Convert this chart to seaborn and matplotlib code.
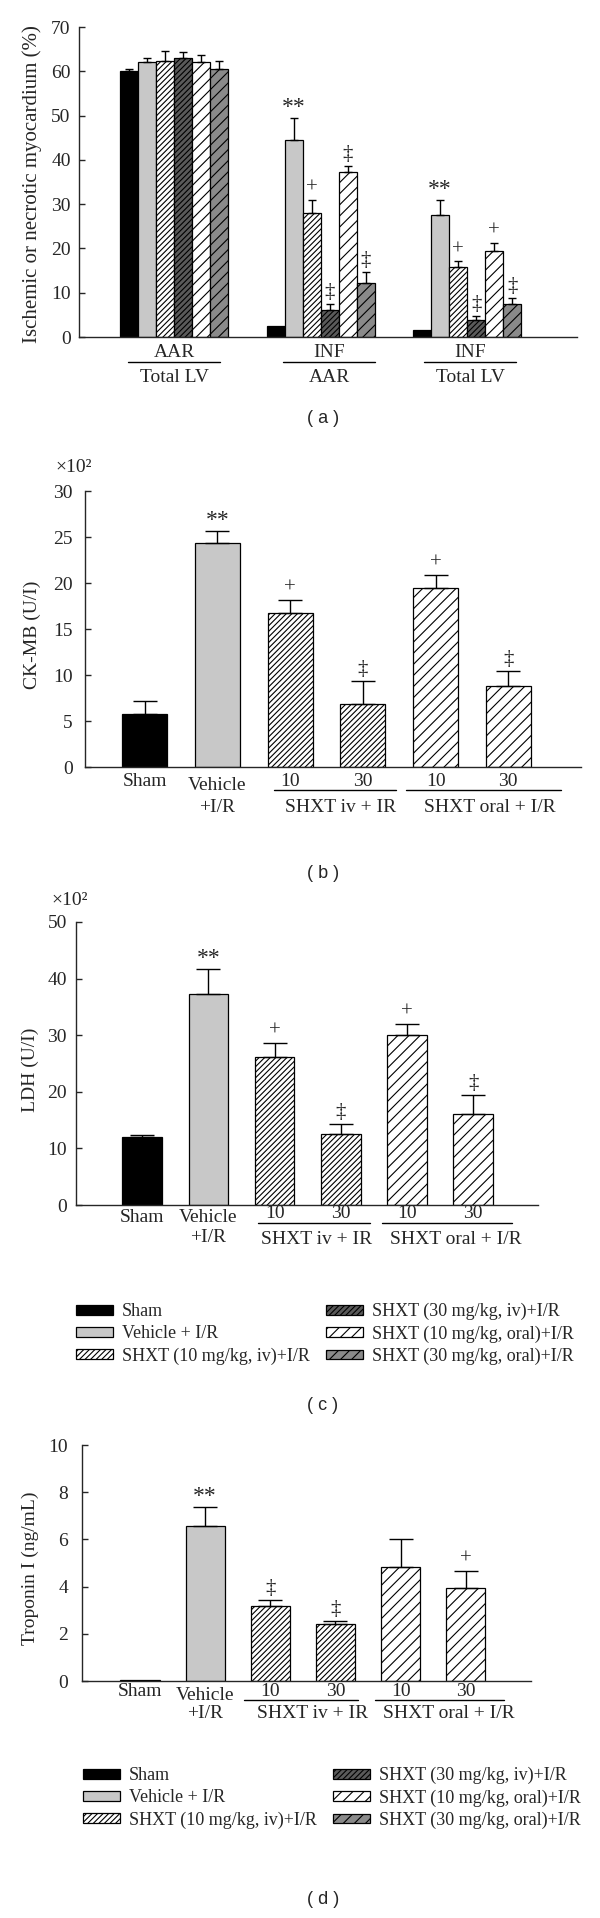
import matplotlib
matplotlib.use("Agg")
import matplotlib.pyplot as plt
import matplotlib.patches as mpatches
from matplotlib.transforms import ScaledTranslation
import numpy as np
import pandas as pd
import seaborn as sns

# ---- data ----
treatments = ["Sham", "Vehicle + I/R", "SHXT (10 mg/kg, iv)+I/R",
              "SHXT (30 mg/kg, iv)+I/R", "SHXT (10 mg/kg, oral)+I/R",
              "SHXT (30 mg/kg, oral)+I/R"]

# panel (a): infarct / area at risk ratios
ratio_groups = ["AAR/Total LV", "INF/AAR", "INF/Total LV"]
ratio_top = ["AAR", "INF", "INF"]
ratio_bottom = ["Total LV", "AAR", "Total LV"]
ratio_vals = {
    "Sham": [60.0, 2.5, 1.5],
    "Vehicle + I/R": [62.0, 44.5, 27.6],
    "SHXT (10 mg/kg, iv)+I/R": [62.3, 28.0, 15.7],
    "SHXT (30 mg/kg, iv)+I/R": [62.9, 6.2, 3.9],
    "SHXT (10 mg/kg, oral)+I/R": [62.0, 37.2, 19.4],
    "SHXT (30 mg/kg, oral)+I/R": [60.5, 12.1, 7.4],
}
ratio_errs = {
    "Sham": [0.6, 0.0, 0.0],
    "Vehicle + I/R": [1.0, 5.0, 3.4],
    "SHXT (10 mg/kg, iv)+I/R": [2.2, 2.9, 1.4],
    "SHXT (30 mg/kg, iv)+I/R": [1.5, 1.3, 0.8],
    "SHXT (10 mg/kg, oral)+I/R": [1.6, 1.4, 1.8],
    "SHXT (30 mg/kg, oral)+I/R": [1.8, 2.5, 1.4],
}
ratio_marks = {
    "Sham": ["", "", ""],
    "Vehicle + I/R": ["", "**", "**"],
    "SHXT (10 mg/kg, iv)+I/R": ["", "+", "+"],
    "SHXT (30 mg/kg, iv)+I/R": ["", "‡", "‡"],
    "SHXT (10 mg/kg, oral)+I/R": ["", "‡", "+"],
    "SHXT (30 mg/kg, oral)+I/R": ["", "‡", "‡"],
}

# panels (b)-(d): one bar per treatment
bar_keys = ["sham", "vehicle", "iv10", "iv30", "oral10", "oral30"]
ckmb_vals = [5.76, 24.3, 16.7, 6.8, 19.5, 8.8]
ckmb_errs = [1.45, 1.4, 1.5, 2.5, 1.4, 1.6]
ckmb_marks = ["", "**", "+", "‡", "+", "‡"]

ldh_vals = [12.1, 37.25, 26.1, 12.5, 30.1, 16.1]
ldh_errs = [0.3, 4.4, 2.5, 1.8, 1.9, 3.4]
ldh_marks = ["", "**", "+", "‡", "+", "‡"]

trop_vals = [0.03, 6.55, 3.16, 2.43, 4.83, 3.93]
trop_errs = [0.0, 0.84, 0.27, 0.13, 1.17, 0.73]
trop_marks = ["", "**", "‡", "‡", "", "+"]

# ---- styles ----
sns.set_theme(style="ticks")
plt.rcParams["font.family"] = ["Liberation Serif", "DejaVu Serif"]
plt.rcParams["hatch.linewidth"] = 0.8
plt.rcParams["axes.linewidth"] = 1.0

fills_a = ["black", "#c8c8c8", "white", "#5a5a5a", "white", "#8a8a8a"]
hatches = ["", "", "//////", "//////", "///", "///"]
fills_bcd = ["black", "#c8c8c8", "white", "white", "white", "white"]
FS = 14

fig = plt.figure(figsize=(6, 19.18), dpi=100)
W, H = 600, 1918


def add_ax(left, right, top, bottom):
    return fig.add_axes([left / W, 1 - bottom / H, (right - left) / W, (bottom - top) / H])


def below(ax, x, px, s, **kw):
    tr = ax.get_xaxis_transform() + ScaledTranslation(0, -px / 100, fig.dpi_scale_trans)
    ax.text(x, 0, s, transform=tr, ha="center", va="center", fontsize=FS, **kw)


def underline(ax, x0, x1, px):
    tr = ax.get_xaxis_transform() + ScaledTranslation(0, -px / 100, fig.dpi_scale_trans)
    ax.plot([x0, x1], [0, 0], transform=tr, color="black", lw=1.0, clip_on=False)


def finish(ax, ymax, step, pad, xlim, ylabel, lab_x, lab_y, lab_fs=FS):
    ax.set_ylim(0, ymax)
    ax.set_yticks(np.arange(0, ymax + 0.01, step))
    ax.set_xlim(*xlim)
    ax.set_xticks([])
    ax.set_xlabel("")
    ax.tick_params(axis="y", direction="in", length=4, width=1, pad=pad, labelsize=FS)
    sns.despine(ax=ax)
    ax.set_ylabel(ylabel, fontsize=lab_fs)
    ax.yaxis.set_label_coords(lab_x, lab_y)


def mark(ax, x, top, s):
    size = 17 if s == "**" else 15
    off = 0 if s == "**" else 1.5
    ax.annotate(s, (x, top), xytext=(0, off), textcoords="offset points",
                ha="center", va="bottom", fontsize=size)


# ---- panel (a) ----
rows = []
for t in treatments:
    for g, v in zip(ratio_groups, ratio_vals[t]):
        rows.append({"ratio": g, "treatment": t, "value": v})
df_a = pd.DataFrame(rows)

ax = add_ax(79, 577, 27, 337)
sns.barplot(data=df_a, x="ratio", y="value", hue="treatment", order=ratio_groups,
            hue_order=treatments, palette=dict(zip(treatments, fills_a)),
            width=0.737, saturation=1, edgecolor="black", linewidth=0.9,
            errorbar=None, legend=False, ax=ax)
bar_conts = list(ax.containers)
for i, cont in enumerate(bar_conts):
    t = treatments[i]
    for j, bar in enumerate(cont):
        bar.set_hatch(hatches[i])
        x = bar.get_x() + bar.get_width() / 2
        top = bar.get_height() + ratio_errs[t][j]
        if ratio_errs[t][j] > 0:
            ax.errorbar(x, bar.get_height(), yerr=[[0], [ratio_errs[t][j]]], fmt="none",
                        ecolor="black", elinewidth=1.0, capsize=3.2, capthick=1.0)
        if ratio_marks[t][j]:
            mark(ax, x, top, ratio_marks[t][j])
finish(ax, 70, 10, 6, (-0.65, 2.75), "Ischemic or necrotic myocardium (%)", -0.075, 0.494,
       lab_fs=15)
label_x = [0.0, 1.06, 2.02]
for k in range(3):
    below(ax, label_x[k], 15, ratio_top[k])
    underline(ax, label_x[k] - 0.314, label_x[k] + 0.314, 25)
    below(ax, label_x[k], 40, ratio_bottom[k])


# ---- panels (b)-(d) ----
def single_panel(box, vals, errs, marks, width, ymax, step, pad, xlim, ylabel,
                 lab_x, offs, iv_line, oral_line, iv_x, oral_x):
    ax = add_ax(*box)
    sns.barplot(x=bar_keys, y=vals, hue=bar_keys, palette=fills_bcd, width=width,
                saturation=1, edgecolor="black", linewidth=0.9, errorbar=None,
                legend=False, ax=ax)
    bars = list(ax.patches)
    for i, bar in enumerate(bars):
        bar.set_hatch(hatches[i])
        x = bar.get_x() + bar.get_width() / 2
        if errs[i] > 0:
            ax.errorbar(x, vals[i], yerr=[[0], [errs[i]]], fmt="none", ecolor="black",
                        elinewidth=1.0, capsize=8.5, capthick=1.0)
        if marks[i]:
            mark(ax, x, vals[i] + errs[i], marks[i])
    finish(ax, ymax, step, pad, xlim, ylabel, lab_x, 0.478)
    o_name, o_veh1, o_veh2, o_num, o_line, o_grp = offs
    below(ax, 0, o_name, "Sham")
    below(ax, 1, o_veh1, "Vehicle")
    below(ax, 1, o_veh2, "+I/R")
    for k, n in zip(range(2, 6), ["10", "30", "10", "30"]):
        below(ax, k, o_num, n)
    underline(ax, iv_line[0], iv_line[1], o_line)
    underline(ax, oral_line[0], oral_line[1], o_line)
    below(ax, iv_x, o_grp, "SHXT iv + IR")
    below(ax, oral_x, o_grp, "SHXT oral + I/R")
    return ax


single_panel((85, 581, 491, 767), ckmb_vals, ckmb_errs, ckmb_marks, 0.62, 30, 5, 9,
             (-0.82, 6.0), "CK-MB (U/I)", -0.088, (15, 18, 40, 14, 23, 40),
             (1.78, 3.46), (3.6, 5.73), 2.69, 4.75)
single_panel((76, 538, 922, 1205), ldh_vals, ldh_errs, ldh_marks, 0.6, 50, 10, 6.5,
             (-1.0, 5.98), "LDH (U/I)", -0.08, (12, 13, 33, 9, 18, 35),
             (1.75, 3.44), (3.63, 5.59), 2.64, 4.74)
single_panel((82, 531, 1445, 1681), trop_vals, trop_errs, trop_marks, 0.6, 10, 2, 10,
             (-0.89, 6.0), "Troponin I (ng/mL)", -0.096, (11, 14, 32, 11, 19, 32),
             (1.6, 3.35), (3.6, 5.58), 2.65, 4.74)

fig.text(74 / W, 1 - 468 / H, "×10²", ha="center", va="center", fontsize=FS)
fig.text(70 / W, 1 - 901 / H, "×10²", ha="center", va="center", fontsize=FS)

# ---- legends ----
legend_fills = ["black", "#c8c8c8", "white", "#5a5a5a", "white", "#8a8a8a"]
handles = [mpatches.Patch(facecolor=f, edgecolor="black", hatch=h, linewidth=0.9, label=t)
           for f, h, t in zip(legend_fills, hatches, treatments)]
for lx, ly in [(76, 1303), (83, 1767)]:
    fig.legend(handles=handles, loc="upper left", bbox_to_anchor=(lx / W, 1 - ly / H),
               ncol=2, frameon=False, fontsize=13, handlelength=2.05, handleheight=0.45,
               handletextpad=0.5, columnspacing=0.9, labelspacing=0.28,
               borderpad=0, borderaxespad=0)

# ---- panel letters ----
for letter, y in zip("abcd", [418, 874, 1405, 1900]):
    fig.text(323 / W, 1 - y / H, f"( {letter} )", ha="center", va="center",
             fontsize=13, family=["Liberation Sans", "DejaVu Sans"])

fig.savefig("out.png", dpi=100, facecolor="white")
